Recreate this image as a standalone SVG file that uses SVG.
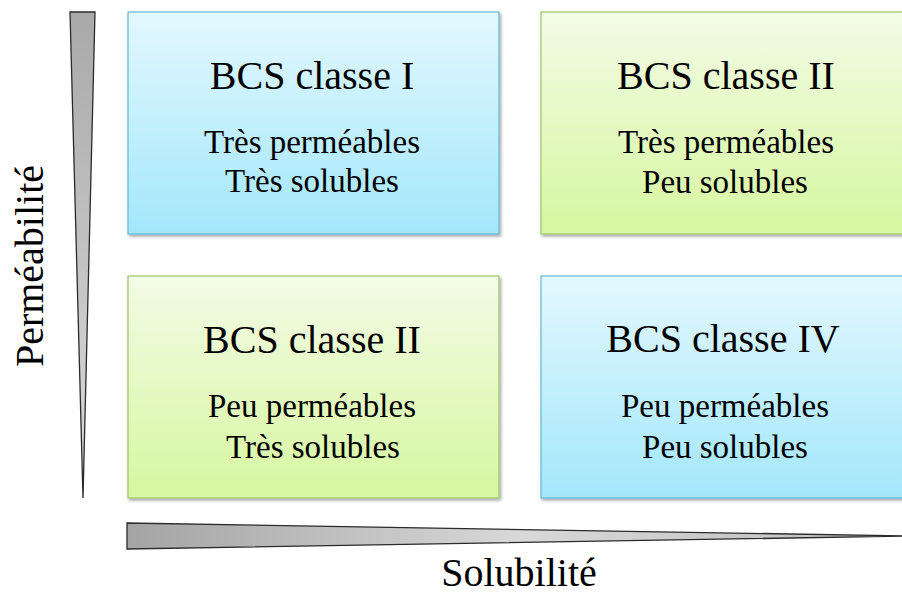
<svg xmlns="http://www.w3.org/2000/svg" width="902" height="595" viewBox="0 0 902 595">
<defs>
<linearGradient id="gBlue" x1="0" y1="0" x2="0" y2="1">
<stop offset="0" stop-color="#e3f8fe"/>
<stop offset="1" stop-color="#a3e7fb"/>
</linearGradient>
<linearGradient id="gGreen" x1="0" y1="0" x2="0" y2="1">
<stop offset="0" stop-color="#f3fbe6"/>
<stop offset="1" stop-color="#d6f7a0"/>
</linearGradient>
<linearGradient id="gV" x1="0" y1="0" x2="0" y2="1">
<stop offset="0" stop-color="#a9a9a9"/>
<stop offset="1" stop-color="#dcdcdc"/>
</linearGradient>
<linearGradient id="gH" x1="0" y1="0" x2="1" y2="0">
<stop offset="0" stop-color="#a4a4a4"/>
<stop offset="0.5" stop-color="#d8d8d8"/>
<stop offset="1" stop-color="#bdbdbd"/>
</linearGradient>
<filter id="sh" x="-5%" y="-5%" width="115%" height="115%">
<feDropShadow dx="1.5" dy="2" stdDeviation="1.5" flood-color="#000" flood-opacity="0.35"/>
</filter>
</defs>
<style>
.blue{fill:url(#gBlue);stroke:#62b9d3;stroke-width:1.2}
.green{fill:url(#gGreen);stroke:#9cc66b;stroke-width:1.2}
.t{fill:#000;text-anchor:middle;font-family:'Liberation Serif','Times New Roman',Times,'DejaVu Serif','Noto Serif',Tinos,FreeSerif,serif}
.title{font-size:40px}
.sub{font-size:33px}
.axis{font-size:40px}
.wedge{stroke:#2b2b2b;stroke-width:1.3;stroke-linejoin:miter}
</style>
<rect width="902" height="595" fill="#fff"/>
<g id="axis-permeabilite">
<polygon class="wedge" points="70,12 95,12 83,498" fill="url(#gV)"/>
<text class="t axis" transform="translate(43,266) rotate(-90)">Perméabilité</text>
</g>
<g id="axis-solubilite">
<polygon class="wedge" points="127,523 127,549 912,536" fill="url(#gH)"/>
<text class="t axis" x="519" y="586">Solubilité</text>
</g>
<g id="node-classe-I">
<rect class="blue" x="128" y="12" width="371" height="222" filter="url(#sh)"/>
<text class="t title" x="312" y="89">BCS classe I</text>
<text class="t sub" x="312" y="153">Très perméables</text>
<text class="t sub" x="312" y="192">Très solubles</text>
</g>
<g id="node-classe-II-top">
<rect class="green" x="541" y="12" width="371" height="222" filter="url(#sh)"/>
<text class="t title" x="726" y="89">BCS classe II</text>
<text class="t sub" x="726" y="153">Très perméables</text>
<text class="t sub" x="725" y="193">Peu solubles</text>
</g>
<g id="node-classe-II-bottom">
<rect class="green" x="128" y="276" width="371" height="222" filter="url(#sh)"/>
<text class="t title" x="312" y="353">BCS classe II</text>
<text class="t sub" x="312" y="417">Peu perméables</text>
<text class="t sub" x="313" y="458">Très solubles</text>
</g>
<g id="node-classe-IV">
<rect class="blue" x="541" y="276" width="371" height="222" filter="url(#sh)"/>
<text class="t title" x="723" y="352">BCS classe IV</text>
<text class="t sub" x="725" y="417">Peu perméables</text>
<text class="t sub" x="725" y="458">Peu solubles</text>
</g>
<g id="connectors"/>
</svg>
